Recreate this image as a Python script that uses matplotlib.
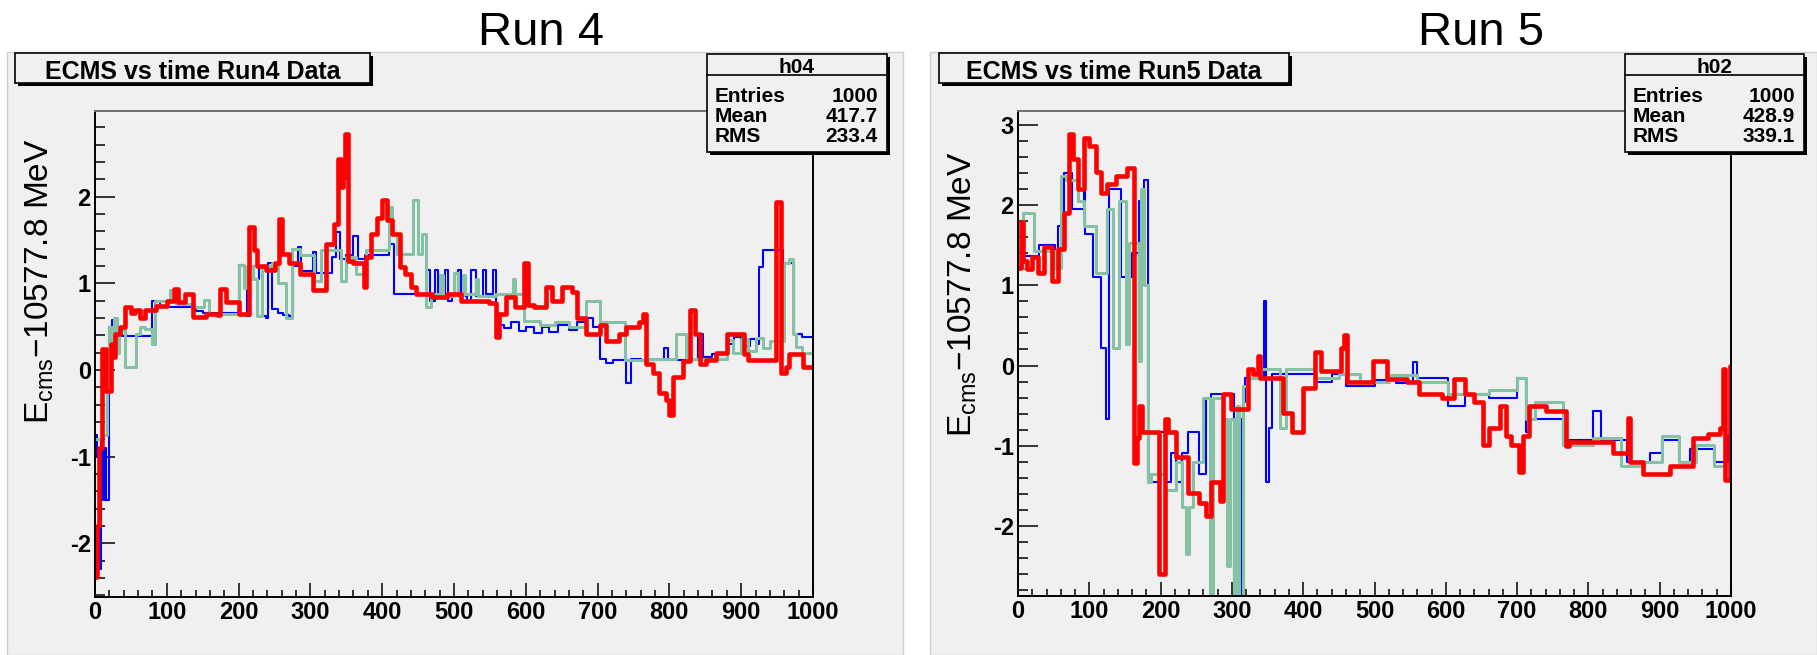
import matplotlib
matplotlib.use("Agg")
import matplotlib.pyplot as plt
from matplotlib.patches import Rectangle
from matplotlib.ticker import MultipleLocator

# ============================================================
# Data (step functions)
# ============================================================

run4_blue_x = [0, 3, 5, 8, 11, 14, 16, 19, 24, 28, 32, 35, 38, 80, 90, 141, 150, 200, 208, 212,
               216, 222, 228, 232, 238, 241, 246, 255, 262, 270, 276, 283, 287, 303, 308, 330, 336,
               341, 350, 360, 366, 376, 410, 416, 462, 467, 474, 478, 488, 492, 497, 505, 510, 518,
               524, 530, 540, 545, 555, 558, 562, 570, 580, 590, 600, 612, 622, 632, 645, 660, 672,
               685, 693, 703, 712, 722, 740, 746, 760, 792, 798, 840, 847, 860, 880, 890, 900, 912,
               920, 925, 930, 958, 973, 985, 1000]
run4_blue_y = [-0.75, -1.0, -2.3, -0.8, -1.5, -0.9, -1.5, 0.5, 0.58, 0.52, 0.45, 0.42, 0.39, 0.80,
               0.73, 0.68, 0.66, 1.21, 1.15, 0.62, 1.2, 1.05, 1.18, 0.62, 0.6, 1.23, 0.7, 0.66, 0.64,
               0.62, 1.2, 1.42, 1.14, 1.36, 1.12, 1.3, 1.59, 1.28, 1.33, 1.55, 1.28, 1.33, 1.46, 0.88,
               1.15, 0.8, 1.15, 0.85, 1.15, 0.8, 0.88, 1.15, 0.85, 0.8, 1.15, 0.85, 1.15, 0.88, 1.15,
               0.42, 0.52, 0.48, 0.55, 0.45, 0.5, 0.43, 0.5, 0.44, 0.52, 0.46, 0.55, 0.6, 0.5, 0.13,
               0.08, 0.11, -0.15, 0.13, 0.11, 0.26, 0.12, 0.42, 0.15, 0.18, 0.3, 0.38, 0.28, 0.36,
               0.3, 1.19, 1.38, 1.23, 0.42, 0.38, 0.38]

run4_green_x = [0, 10, 17, 20, 24, 26, 30, 33, 42, 57, 62, 70, 80, 84, 104, 113, 135, 152, 159, 200,
                208, 212, 220, 225, 232, 246, 255, 266, 275, 285, 305, 315, 343, 350, 363, 377, 410,
                414, 420, 443, 450, 455, 461, 468, 480, 484, 500, 505, 512, 516, 530, 534, 558, 582,
                585, 597, 620, 640, 660, 684, 703, 738, 770, 809, 823, 880, 888, 900, 910, 920, 930,
                940, 959, 966, 972, 976, 985, 1000]
run4_green_y = [-0.8, -0.75, -0.25, 0.5, 0.3, 0.6, 0.2, 0.46, 0.03, 0.42, 0.5, 0.47, 0.3, 0.8, 0.92,
                0.76, 0.73, 0.81, 0.65, 1.21, 0.95, 1.2, 1.05, 0.62, 1.2, 1.23, 1.0, 0.6, 1.4, 1.33,
                1.03, 1.38, 1.03, 1.3, 1.11, 1.38, 1.88, 1.57, 1.34, 1.96, 1.34, 1.57, 0.73, 0.88,
                1.1, 0.86, 1.12, 0.86, 1.1, 0.88, 1.05, 0.86, 0.88, 1.05, 0.88, 0.57, 0.52, 0.56, 0.5,
                0.8, 0.55, 0.11, 0.13, 0.42, 0.13, 0.35, 0.2, 0.36, 0.22, 0.37, 0.25, 0.33, 1.23,
                1.28, 0.42, 0.27, 0.2, 0.2]

run4_red_x = [0, 3, 6, 10, 15, 22, 25, 28, 35, 42, 50, 56, 62, 70, 85, 100, 110, 115, 126, 136, 154,
              170, 174, 182, 200, 215, 222, 226, 238, 250, 256, 260, 270, 285, 303, 322, 333, 338,
              343, 346, 348, 352, 360, 374, 378, 385, 393, 400, 407, 413, 425, 432, 440, 447, 470,
              490, 510, 549, 558, 562, 572, 585, 598, 603, 612, 628, 637, 651, 665, 672, 684, 703,
              712, 730, 740, 758, 763, 767, 777, 786, 795, 800, 805, 819, 828, 835, 842, 851, 865,
              880, 904, 910, 948, 956, 962, 967, 986, 1000]
run4_red_y = [-2.39, -1.8, -0.9, 0.24, -0.24, 0.3, 0.15, 0.42, 0.5, 0.73, 0.66, 0.69, 0.6, 0.69,
              0.74, 0.8, 0.94, 0.78, 0.88, 0.61, 0.65, 0.63, 0.94, 0.78, 0.65, 1.65, 1.38, 1.2, 1.15,
              1.23, 1.74, 1.34, 1.23, 1.11, 0.92, 1.46, 1.69, 2.44, 2.11, 2.23, 2.73, 1.26, 1.23,
              0.96, 1.3, 1.57, 1.76, 1.96, 1.73, 1.57, 1.19, 1.11, 0.96, 0.88, 0.84, 0.88, 0.8, 0.77,
              0.38, 0.65, 0.84, 0.73, 1.23, 0.75, 0.73, 0.96, 0.8, 0.96, 0.9, 0.6, 0.42, 0.52, 0.34,
              0.42, 0.5, 0.56, 0.65, 0.07, -0.04, -0.27, -0.35, -0.52, -0.08, 0.1, 0.69, 0.42, 0.07,
              0.12, 0.2, 0.42, 0.19, 0.12, 1.94, -0.04, 0.03, 0.19, 0.03, 0.03]

run5_blue_x = [0, 6, 9, 30, 52, 56, 64, 76, 92, 94, 105, 117, 123, 127, 145, 160, 170, 177, 182, 198,
               206, 214, 222, 230, 238, 254, 263, 271, 303, 306, 313, 316, 319, 345, 348, 352, 356,
               417, 440, 460, 500, 530, 554, 560, 603, 627, 660, 700, 712, 716, 765, 806, 818, 854,
               887, 903, 927, 943, 976, 996, 1000]
run5_blue_y = [1.22, 1.64, 1.37, 1.5, 1.25, 1.74, 2.4, 1.95, 2.35, 1.64, 1.11, 0.22, -0.67, 2.21,
               1.11, 1.4, 2.06, 2.32, -1.46, -0.83, -1.46, -1.09, -1.46, -1.09, -0.83, -1.35, -0.41,
               -0.36, -2.95, -0.67, -2.95, -0.46, -0.15, 0.8, -1.46, -0.78, -0.1, -0.2, -0.1, -0.25,
               -0.18, -0.22, 0.04, -0.15, -0.51, -0.36, -0.41, -0.15, -0.83, -0.67, -0.93, -0.57,
               -0.93, -1.2, -1.09, -0.93, -1.2, -1.04, -1.2, -0.88, -0.88]

run5_green_x = [0, 7, 23, 52, 60, 68, 84, 92, 109, 125, 133, 141, 152, 155, 170, 173, 177, 182, 186,
                206, 222, 230, 236, 240, 246, 259, 269, 273, 287, 293, 297, 303, 307, 310, 315, 323,
                336, 368, 376, 417, 450, 480, 520, 560, 603, 660, 700, 712, 725, 765, 806, 846, 878,
                903, 927, 951, 976, 996]
run5_green_y = [1.22, 1.9, 1.43, 1.22, 2.37, 2.32, 2.06, 1.74, 1.16, 1.95, 0.22, 2.06, 0.27, 1.53,
                0.06, 2.21, 1.0, -1.46, -1.35, -1.56, -1.2, -1.77, -2.35, -1.77, -1.2, -0.41, -2.87,
                -0.41, -0.67, -2.5, -0.67, -2.95, -0.5, -2.95, -0.25, -0.15, -0.04, -0.78, -0.04,
                -0.15, -0.1, -0.2, -0.12, -0.2, -0.36, -0.3, -0.15, -0.67, -0.46, -0.99, -0.91, -1.25,
                -1.2, -0.88, -1.2, -0.99, -1.25, -1.25]

run5_red_x = [0, 4, 7, 12, 20, 28, 36, 48, 56, 64, 71, 77, 84, 93, 100, 109, 117, 125, 137, 153, 162,
              167, 170, 174, 198, 206, 210, 222, 238, 254, 263, 271, 283, 287, 299, 323, 330, 336,
              340, 372, 384, 400, 417, 425, 453, 457, 461, 498, 518, 546, 562, 595, 611, 627, 640,
              652, 660, 676, 684, 692, 703, 708, 716, 741, 769, 773, 834, 855, 859, 876, 915, 947,
              968, 984, 989, 992, 998, 1000]
run5_red_y = [1.22, 1.79, 1.3, 1.2, 1.35, 1.15, 1.48, 1.06, 1.45, 1.9, 2.89, 2.58, 2.21, 2.84, 2.74,
              2.42, 2.16, 2.27, 2.37, 2.47, -1.22, -0.9, -0.51, -0.83, -2.61, -0.67, -0.83, -1.14,
              -1.59, -1.72, -1.88, -1.46, -1.69, -0.36, -0.54, -0.04, -0.1, 0.12, -0.15, -0.59,
              -0.83, -0.28, 0.17, -0.07, 0.22, 0.38, -0.2, 0.06, -0.17, -0.2, -0.36, -0.41, -0.17,
              -0.36, -0.46, -0.99, -0.78, -0.51, -0.88, -0.99, -1.33, -0.88, -0.51, -0.57, -1.01,
              -0.96, -1.09, -0.65, -1.2, -1.35, -1.25, -0.91, -0.85, -0.78, -0.04, -1.43, 0.0, 0.0]

x_ticks = [0, 100, 200, 300, 400, 500, 600, 700, 800, 900, 1000]
run4_yticks = [-2, -1, 0, 1, 2]
run5_yticks = [-2, -1, 0, 1, 2, 3]
stat_names = ["Entries", "Mean", "RMS"]
run4_stats = ["1000", "417.7", "233.4"]
run5_stats = ["1000", "428.9", "339.1"]

# ============================================================
# Style
# ============================================================

W, H = 1817, 655
PANEL = "#f0f0f0"
BLUE = "#0000ff"
GREEN = "#85c2a3"
RED = "#ff0000"

plt.rcParams["font.family"] = ["Liberation Sans", "DejaVu Sans"]
plt.rcParams["mathtext.fontset"] = "custom"
plt.rcParams["mathtext.rm"] = "Liberation Sans"
plt.rcParams["mathtext.it"] = "Liberation Sans:italic"
plt.rcParams["mathtext.bf"] = "Liberation Sans:bold"
plt.rcParams["axes.unicode_minus"] = False


def rect(l, t, r, b):
	"""pixel box (top-left origin) -> figure fraction rect"""
	return [l / W, 1 - b / H, (r - l) / W, (b - t) / H]


def box(ax, l, t, r, b, sh=3):
	ax.add_patch(Rectangle((l + sh, t + sh), r - l, b - t, facecolor="black", edgecolor="none"))
	ax.add_patch(Rectangle((l, t), r - l, b - t, facecolor=PANEL, edgecolor="black", linewidth=1.2))


fig = plt.figure(figsize=(W / 100, H / 100), dpi=100)
fig.patch.set_facecolor("white")

bg = fig.add_axes([0, 0, 1, 1], zorder=0)
fg = fig.add_axes([0, 0, 1, 1], zorder=5)
for a in (bg, fg):
	a.set_xlim(0, W)
	a.set_ylim(H, 0)
	a.axis("off")
	a.patch.set_alpha(0)

panels = [
	dict(pl=7, pr=903, ax=(95, 111, 813, 597), ylim=(-2.62, 2.99), yticks=run4_yticks,
	     series=[(run4_blue_x, run4_blue_y, BLUE, 1.5), (run4_green_x, run4_green_y, GREEN, 2.2),
	             (run4_red_x, run4_red_y, RED, 3.3)],
	     run="Run 4", run_x=541, title="ECMS vs time Run4 Data", tbox=(15, 53, 370, 83),
	     hname="h04", sbox=(707, 54, 887, 152), stats=run4_stats, ylab=(40, 281)),
	dict(pl=930, pr=W, ax=(1018, 111, 1731, 596), ylim=(-2.88, 3.18), yticks=run5_yticks,
	     series=[(run5_blue_x, run5_blue_y, BLUE, 1.5), (run5_green_x, run5_green_y, GREEN, 2.2),
	             (run5_red_x, run5_red_y, RED, 3.3)],
	     run="Run 5", run_x=1481, title="ECMS vs time Run5 Data", tbox=(939, 53, 1289, 83),
	     hname="h02", sbox=(1625, 54, 1804, 152), stats=run5_stats, ylab=(963, 294)),
]

for p in panels:
	# panel background
	bg.add_patch(Rectangle((p["pl"], 52), p["pr"] - p["pl"], H - 52, facecolor=PANEL,
	                       edgecolor="#d0d0d0", linewidth=1))

	ax = fig.add_axes(rect(*p["ax"]), zorder=1)
	ax.set_facecolor(PANEL)
	for xs, ys, col, lw in p["series"]:
		ax.plot(xs, ys, drawstyle="steps-post", color=col, linewidth=lw)
	ax.set_xlim(0, 1000)
	ax.set_ylim(*p["ylim"])

	ax.set_xticks(x_ticks, [str(t) for t in x_ticks], fontweight="bold", fontsize=17)
	ax.set_yticks(p["yticks"], [str(t) for t in p["yticks"]], fontweight="bold", fontsize=17)
	ax.xaxis.set_minor_locator(MultipleLocator(20))
	ax.yaxis.set_minor_locator(MultipleLocator(0.2))
	ax.tick_params(axis="y", which="major", direction="in", length=14.4, width=1.1, pad=3)
	ax.tick_params(axis="y", which="minor", direction="in", length=7.2, width=1.1)
	ax.tick_params(axis="x", which="major", direction="in", length=10, width=1.1, pad=3)
	ax.tick_params(axis="x", which="minor", direction="in", length=5, width=1.1)

	for side in ("left", "bottom", "right"):
		ax.spines[side].set_color("black")
		ax.spines[side].set_linewidth(1.4)
	ax.spines["top"].set_color("#707070")
	ax.spines["top"].set_linewidth(1.4)

	# titles and boxes
	fg.text(p["run_x"], 45, p["run"], ha="center", va="baseline", fontsize=34)
	l, t, r, b = p["tbox"]
	box(fg, l, t, r, b)
	fg.text((l + r) / 2, 79, p["title"], ha="center", va="baseline", fontsize=18, fontweight="bold")

	l, t, r, b = p["sbox"]
	box(fg, l, t, r, b)
	fg.plot([l, r], [t + 21, t + 21], color="black", linewidth=1.2)
	fg.text((l + r) / 2, 73, p["hname"], ha="center", va="baseline", fontsize=15, fontweight="bold")
	for i, (name, val) in enumerate(zip(stat_names, p["stats"])):
		yb = 102 + 20 * i
		fg.text(l + 8, yb, name, ha="left", va="baseline", fontsize=15, fontweight="bold")
		fg.text(r - 9, yb, val, ha="right", va="baseline", fontsize=15, fontweight="bold")

	fg.text(p["ylab"][0], p["ylab"][1], "E$_{\\mathrm{cms}}$\u221210577.8 MeV", rotation=90,
	        ha="center", va="center", fontsize=24)

fig.savefig("out.png", dpi=100)
